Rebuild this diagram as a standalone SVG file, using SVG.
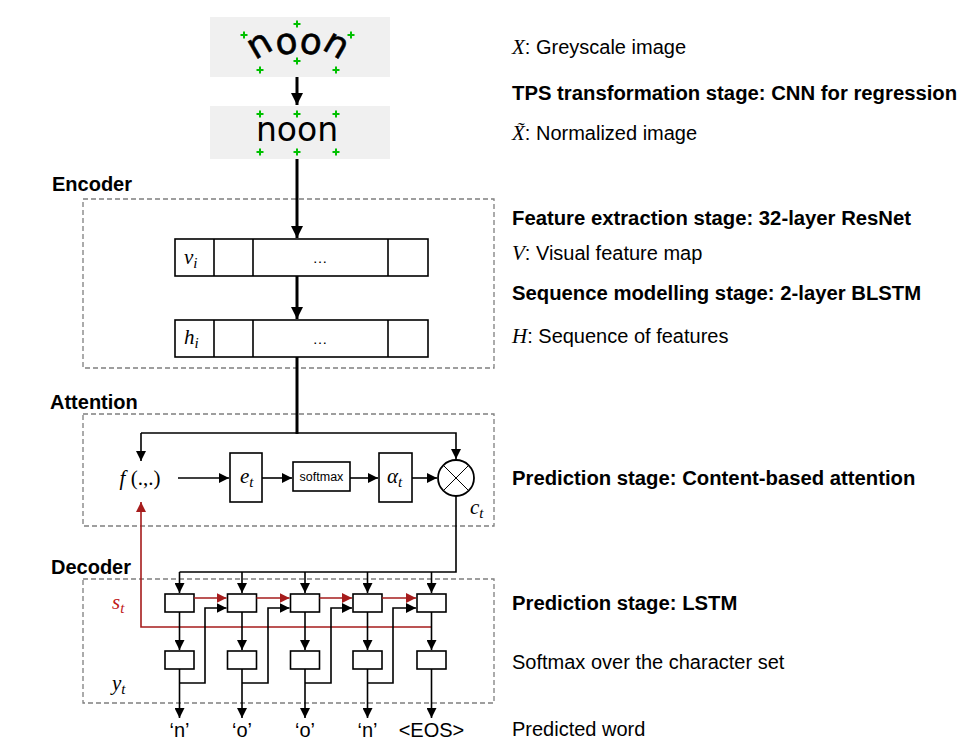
<svg xmlns="http://www.w3.org/2000/svg" width="961" height="740" viewBox="0 0 961 740">
<style>
.t{font-family:"Liberation Sans",Arial,sans-serif;font-size:20px;fill:#000}
.b{font-weight:bold}
.m{font-family:"Liberation Serif","Times New Roman",serif;font-style:italic;font-size:21px;fill:#000}
.sub{font-size:15px}
.box{fill:#fff;stroke:#000;stroke-width:1.6}
.dash{fill:none;stroke:#7f7f7f;stroke-width:1.3;stroke-dasharray:5,3}
.ln{fill:none;stroke:#000;stroke-width:1.6}
.thick{fill:none;stroke:#000;stroke-width:3}
.red{fill:none;stroke:#a61c1c;stroke-width:1.6}
.plus{stroke:#00c000;stroke-width:2}
.noon{font-family:"DejaVu Sans",sans-serif;font-size:33px;fill:#000}
</style>
<defs>
<marker id="ah" markerUnits="userSpaceOnUse" markerWidth="10" markerHeight="10" viewBox="0 0 10 10" refX="10" refY="5" orient="auto"><path d="M0,0 L10,5 L0,10 z" fill="#000"/></marker>
<marker id="ahb" markerUnits="userSpaceOnUse" markerWidth="12" markerHeight="12" viewBox="0 0 10 10" refX="10" refY="5" orient="auto"><path d="M0,0 L10,5 L0,10 z" fill="#000"/></marker>
<marker id="ahr" markerUnits="userSpaceOnUse" markerWidth="10" markerHeight="10" viewBox="0 0 10 10" refX="10" refY="5" orient="auto"><path d="M0,0 L10,5 L0,10 z" fill="#a61c1c"/></marker>
<g id="plus"><line class="plus" x1="-3.5" y1="0" x2="3.5" y2="0"/><line class="plus" x1="0" y1="-3.5" x2="0" y2="3.5"/></g>
</defs>

<!-- images -->
<g id="img-input">
<rect x="210" y="17" width="180" height="60" fill="#f0f0f0"/>
<text class="noon" style="font-size:36px;stroke:#000;stroke-width:0.6" x="255 277 298.5 321" y="60.2 55.2 52.2 48.8" rotate="-30 -8 8 30">noon</text>
<use href="#plus" x="297" y="24"/><use href="#plus" x="244" y="35"/><use href="#plus" x="351" y="35"/>
<use href="#plus" x="297" y="61"/><use href="#plus" x="260" y="70"/><use href="#plus" x="336" y="70"/>
</g>
<g id="img-normalized">
<rect x="210" y="106" width="180" height="53" fill="#f0f0f0"/>
<text class="noon" x="297" y="141" text-anchor="middle">noon</text>
<use href="#plus" x="260" y="114"/><use href="#plus" x="297" y="114"/><use href="#plus" x="336" y="114"/>
<use href="#plus" x="260" y="152"/><use href="#plus" x="297" y="152"/><use href="#plus" x="336" y="152"/>
</g>

<!-- section labels -->
<g id="labels">
<text class="t b" x="52" y="191">Encoder</text>
<text class="t b" x="50" y="409">Attention</text>
<text class="t b" x="51" y="574">Decoder</text>
</g>

<!-- dashed containers -->
<g id="containers">
<rect class="dash" x="83" y="199" width="411" height="169"/>
<rect class="dash" x="83" y="414" width="411" height="112"/>
<rect class="dash" x="83" y="579" width="411" height="124"/>
</g>

<!-- encoder -->
<g id="node-v">
<rect class="box" x="175" y="239" width="253" height="37"/>
<line class="ln" x1="214" y1="239" x2="214" y2="276"/>
<line class="ln" x1="253" y1="239" x2="253" y2="276"/>
<line class="ln" x1="388" y1="239" x2="388" y2="276"/>
<text class="m" x="184" y="264">v<tspan class="sub" dy="4">i</tspan></text>
<text class="t" x="320" y="263" text-anchor="middle" style="font-size:15px">…</text>
</g>
<g id="node-h">
<rect class="box" x="175" y="320" width="253" height="37"/>
<line class="ln" x1="214" y1="320" x2="214" y2="357"/>
<line class="ln" x1="253" y1="320" x2="253" y2="357"/>
<line class="ln" x1="388" y1="320" x2="388" y2="357"/>
<text class="m" x="184" y="344">h<tspan class="sub" dy="4">i</tspan></text>
<text class="t" x="320" y="344" text-anchor="middle" style="font-size:15px">…</text>
</g>

<!-- attention -->
<g id="node-f"><text class="m" x="140" y="485" text-anchor="middle">f<tspan font-style="normal"> (.,.)</tspan></text></g>
<g id="node-e"><rect class="box" x="230" y="453" width="32" height="49"/><text class="m" x="240" y="483">e<tspan class="sub" dy="4">t</tspan></text></g>
<g id="node-softmax"><rect class="box" x="293" y="462" width="57" height="29"/><text class="t" x="321.5" y="481" text-anchor="middle" style="font-size:12.5px">softmax</text></g>
<g id="node-alpha"><rect class="box" x="379" y="453" width="33" height="49"/><text class="m" x="387" y="483">α<tspan class="sub" dy="4">t</tspan></text></g>
<g id="node-mult">
<circle cx="456" cy="478" r="18" fill="#fff" stroke="#000" stroke-width="1.8"/>
<line x1="443.3" y1="465.3" x2="468.7" y2="490.7" stroke="#000" stroke-width="1"/>
<line x1="468.7" y1="465.3" x2="443.3" y2="490.7" stroke="#000" stroke-width="1"/>
<text class="m" x="470" y="514">c<tspan class="sub" dy="4">t</tspan></text>
</g>

<!-- decoder nodes -->
<g id="lstm-1"><rect class="box" x="165" y="594" width="29" height="18"/></g>
<g id="lstm-2"><rect class="box" x="227.5" y="594" width="29" height="18"/></g>
<g id="lstm-3"><rect class="box" x="290.5" y="594" width="29" height="18"/></g>
<g id="lstm-4"><rect class="box" x="353" y="594" width="29" height="18"/></g>
<g id="lstm-5"><rect class="box" x="417" y="594" width="29" height="18"/></g>
<g id="out-1"><rect class="box" x="165" y="651" width="29" height="18"/></g>
<g id="out-2"><rect class="box" x="227.5" y="651" width="29" height="18"/></g>
<g id="out-3"><rect class="box" x="290.5" y="651" width="29" height="18"/></g>
<g id="out-4"><rect class="box" x="353" y="651" width="29" height="18"/></g>
<g id="out-5"><rect class="box" x="417" y="651" width="29" height="18"/></g>
<g id="dec-labels">
<text class="m" x="112" y="609" style="fill:#c01818">s<tspan class="sub" dy="4">t</tspan></text>
<text class="m" x="112" y="690">y<tspan class="sub" dy="4">t</tspan></text>
<text class="t" x="179.5" y="737" text-anchor="middle">‘n’</text>
<text class="t" x="242" y="737" text-anchor="middle">‘o’</text>
<text class="t" x="305" y="737" text-anchor="middle">‘o’</text>
<text class="t" x="367.5" y="737" text-anchor="middle">‘n’</text>
<text class="t" x="431.5" y="737" text-anchor="middle">&lt;EOS&gt;</text>
</g>

<!-- connectors -->
<g id="connectors">
<line class="thick" x1="297" y1="77" x2="297" y2="105" marker-end="url(#ahb)"/>
<line class="thick" x1="297" y1="159" x2="297" y2="238" marker-end="url(#ahb)"/>
<line class="thick" x1="297" y1="276" x2="297" y2="319" marker-end="url(#ahb)"/>
<line class="thick" x1="297" y1="357" x2="297" y2="434"/>
<polyline class="ln" points="141,433 456,433 456,459" marker-end="url(#ah)"/>
<line class="ln" x1="141" y1="433" x2="141" y2="461" marker-end="url(#ah)"/>
<line class="ln" x1="178" y1="478" x2="229" y2="478" marker-end="url(#ah)"/>
<line class="ln" x1="262" y1="478" x2="292" y2="478" marker-end="url(#ah)"/>
<line class="ln" x1="350" y1="478" x2="378" y2="478" marker-end="url(#ah)"/>
<line class="ln" x1="412" y1="478" x2="437" y2="478" marker-end="url(#ah)"/>
<polyline class="ln" points="456,496 456,572 179.5,572"/>
<line class="ln" x1="179.5" y1="572" x2="179.5" y2="593" marker-end="url(#ah)"/>
<line class="ln" x1="242" y1="572" x2="242" y2="593" marker-end="url(#ah)"/>
<line class="ln" x1="305" y1="572" x2="305" y2="593" marker-end="url(#ah)"/>
<line class="ln" x1="367.5" y1="572" x2="367.5" y2="593" marker-end="url(#ah)"/>
<line class="ln" x1="431.5" y1="572" x2="431.5" y2="593" marker-end="url(#ah)"/>
<!-- red -->
<polyline class="red" points="431.5,627 141,627 141,502" marker-end="url(#ahr)"/>
<line class="red" x1="194" y1="598" x2="226.5" y2="598" marker-end="url(#ahr)"/>
<line class="red" x1="256.5" y1="598" x2="289.5" y2="598" marker-end="url(#ahr)"/>
<line class="red" x1="319.5" y1="598" x2="352" y2="598" marker-end="url(#ahr)"/>
<line class="red" x1="382" y1="598" x2="416" y2="598" marker-end="url(#ahr)"/>
<!-- lstm to output -->
<line class="ln" x1="179.5" y1="612" x2="179.5" y2="650" marker-end="url(#ah)"/>
<line class="ln" x1="242" y1="612" x2="242" y2="650" marker-end="url(#ah)"/>
<line class="ln" x1="305" y1="612" x2="305" y2="650" marker-end="url(#ah)"/>
<line class="ln" x1="367.5" y1="612" x2="367.5" y2="650" marker-end="url(#ah)"/>
<line class="ln" x1="431.5" y1="612" x2="431.5" y2="650" marker-end="url(#ah)"/>
<!-- outputs -->
<line class="ln" x1="179.5" y1="669" x2="179.5" y2="718" marker-end="url(#ah)"/>
<line class="ln" x1="242" y1="669" x2="242" y2="718" marker-end="url(#ah)"/>
<line class="ln" x1="305" y1="669" x2="305" y2="718" marker-end="url(#ah)"/>
<line class="ln" x1="367.5" y1="669" x2="367.5" y2="718" marker-end="url(#ah)"/>
<line class="ln" x1="431.5" y1="669" x2="431.5" y2="718" marker-end="url(#ah)"/>
<!-- feedback -->
<polyline class="ln" points="179.5,683 205,683 205,608 226.5,608" marker-end="url(#ah)"/>
<polyline class="ln" points="242,683 268,683 268,608 289.5,608" marker-end="url(#ah)"/>
<polyline class="ln" points="305,683 331,683 331,608 352,608" marker-end="url(#ah)"/>
<polyline class="ln" points="367.5,683 393,683 393,608 416,608" marker-end="url(#ah)"/>
</g>

<!-- right descriptions -->
<g id="descriptions">
<text class="t" x="512" y="54"><tspan class="m">X</tspan>: Greyscale image</text>
<text class="t b" x="512" y="100" style="font-size:20.3px">TPS transformation stage: CNN for regression</text>
<text class="t" x="512" y="140"><tspan class="m">X̃</tspan>: Normalized image</text>
<text class="t b" x="512" y="225" style="font-size:20.3px">Feature extraction stage: 32-layer ResNet</text>
<text class="t" x="512" y="260"><tspan class="m">V</tspan>: Visual feature map</text>
<text class="t b" x="512" y="300" style="font-size:20.3px">Sequence modelling stage: 2-layer BLSTM</text>
<text class="t" x="512" y="343"><tspan class="m">H</tspan>: Sequence of features</text>
<text class="t b" x="512" y="485" style="font-size:20.3px">Prediction stage: Content-based attention</text>
<text class="t b" x="512" y="610" style="font-size:20.3px">Prediction stage: LSTM</text>
<text class="t" x="512" y="669">Softmax over the character set</text>
<text class="t" x="512" y="736">Predicted word</text>
</g>
</svg>
